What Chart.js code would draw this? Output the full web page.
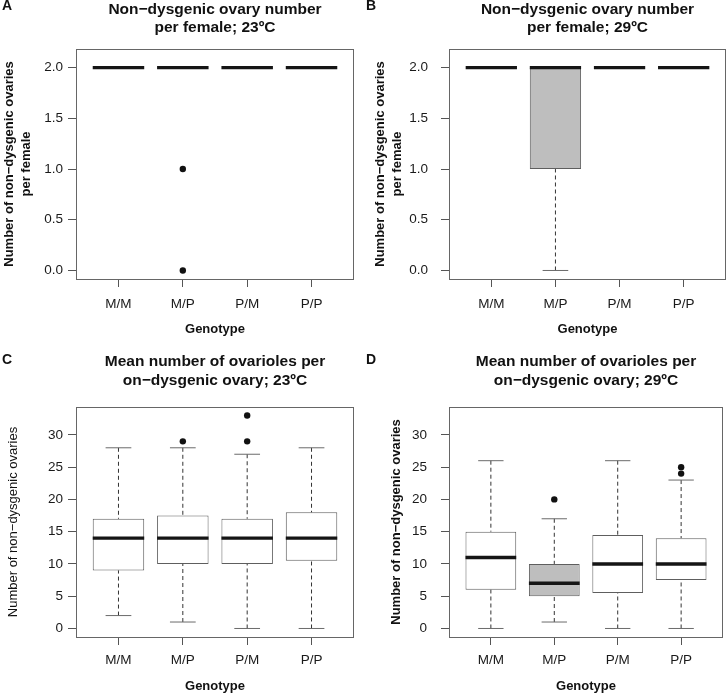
<!DOCTYPE html>
<html>
<head>
<meta charset="utf-8">
<script src="https://cdn.jsdelivr.net/npm/chart.js@4.4.1/dist/chart.umd.min.js"></script>
<style>
  body { margin: 0; background: #fff; }
  #wrap { position: relative; width: 727px; height: 694px; overflow: hidden; background: #fff; }
  #wrap canvas { position: absolute; }
  .tag { position: absolute; font: bold 14px/14px "Liberation Sans", Arial, sans-serif; color: #111; }
</style>
</head>
<body>
<div id="wrap">
  <canvas id="chartA" width="364" height="347" style="left:0;top:0"></canvas>
  <canvas id="chartB" width="363" height="347" style="left:364px;top:0"></canvas>
  <canvas id="chartC" width="364" height="347" style="left:0;top:347px"></canvas>
  <canvas id="chartD" width="363" height="347" style="left:364px;top:347px"></canvas>
  <div class="tag" style="left:2px;top:-2px">A</div>
  <div class="tag" style="left:366px;top:-2px">B</div>
  <div class="tag" style="left:2px;top:352px">C</div>
  <div class="tag" style="left:366px;top:352px">D</div>
</div>
<script>
const genotypes = ['M/M', 'M/P', 'P/M', 'P/P'];

// ticks
const countTicks = [0, 0.5, 1, 1.5, 2];
const countTickLabels = ['0.0', '0.5', '1.0', '1.5', '2.0'];
const ovarioleTicks = [0, 5, 10, 15, 20, 25, 30];
const ovarioleTickLabels = ['0', '5', '10', '15', '20', '25', '30'];

// A - ovaries per female, 23ºC
const ovary23Low = [2, 2, 2, 2];
const ovary23Q1 = [2, 2, 2, 2];
const ovary23Med = [2, 2, 2, 2];
const ovary23Q3 = [2, 2, 2, 2];
const ovary23High = [2, 2, 2, 2];
const ovary23Out = [[], [1, 0], [], []];

// B - ovaries per female, 29ºC
const ovary29Low = [2, 0, 2, 2];
const ovary29Q1 = [2, 1, 2, 2];
const ovary29Med = [2, 2, 2, 2];
const ovary29Q3 = [2, 2, 2, 2];
const ovary29High = [2, 2, 2, 2];
const ovary29Out = [[], [], [], []];

// C - ovarioles per ovary, 23ºC
const ovariole23Low = [2, 1, 0, 0];
const ovariole23Q1 = [9, 10, 10, 10.5];
const ovariole23Med = [14, 14, 14, 14];
const ovariole23Q3 = [17, 17.5, 17, 18];
const ovariole23High = [28, 28, 27, 28];
const ovariole23Out = [[], [29], [29, 33], []];

// D - ovarioles per ovary, 29ºC
const ovariole29Low = [0, 1, 0, 0];
const ovariole29Q1 = [6, 5, 5.5, 7.5];
const ovariole29Med = [11, 7, 10, 10];
const ovariole29Q3 = [15, 10, 14.5, 14];
const ovariole29High = [26, 17, 26, 23];
const ovariole29Out = [[], [20], [], [24, 25]];

const white = ['#fff', '#fff', '#fff', '#fff'];
const greyMP = ['#fff', '#bebebe', '#fff', '#fff'];

Chart.defaults.font.family = '"Liberation Sans", Arial, Helvetica, sans-serif';
Chart.defaults.color = '#1a1a1a';

// box frame around plot region, like R's box()
const frame = {
  id: 'frame',
  afterDraw(chart) {
    const a = chart.chartArea, c = chart.ctx;
    c.save();
    c.strokeStyle = '#666';
    c.lineWidth = 1;
    c.strokeRect(Math.round(a.left) + 0.5, Math.round(a.top) + 0.5,
      Math.round(a.right - a.left) - 1, Math.round(a.bottom - a.top));
    c.restore();
  }
};

function boxDatasets(low, q1, med, q3, high, out, fills) {
  const half = 0.4, cap = 0.2;
  const medPts = [], capPts = [], whiskPts = [], outPts = [];
  genotypes.forEach((g, i) => {
    const x = i + 1;
    medPts.push({x: x - half, y: med[i]}, {x: x + half, y: med[i]}, {x: x + 0.5, y: null});
    capPts.push({x: x - cap, y: high[i]}, {x: x + cap, y: high[i]}, {x: x, y: null},
                {x: x - cap, y: low[i]}, {x: x + cap, y: low[i]}, {x: x + 0.5, y: null});
    whiskPts.push({x: x, y: high[i]}, {x: x, y: q3[i]}, {x: x, y: null},
                  {x: x, y: low[i]}, {x: x, y: q1[i]}, {x: x + 0.5, y: null});
    out[i].forEach(v => outPts.push({x: x, y: v}));
  });
  const line = {type: 'line', pointRadius: 0, spanGaps: false, fill: false, borderCapStyle: 'butt'};
  return [
    Object.assign({}, line, {data: medPts, borderColor: '#151515', borderWidth: 3.4}),
    {type: 'line', data: outPts, showLine: false, pointRadius: 3.2, pointBorderWidth: 0,
     pointBackgroundColor: '#111', pointBorderColor: '#111'},
    Object.assign({}, line, {data: capPts, borderColor: '#6a6a6a', borderWidth: 1}),
    Object.assign({}, line, {data: whiskPts, borderColor: '#333', borderWidth: 1, borderDash: [4, 3]}),
    {type: 'bar', data: genotypes.map((g, i) => ({x: i + 1, y: [q1[i], q3[i]]})),
     backgroundColor: fills, borderColor: '#5e5e5e', borderWidth: 1, borderSkipped: false,
     grouped: false, categoryPercentage: 1, barPercentage: 0.8}
  ];
}

function makePanel(id, g, title, yTitle, yBold, yTicks, yLabels, yMin, yMax, sets) {
  return new Chart(document.getElementById(id), {
    type: 'bar',
    data: {datasets: sets},
    plugins: [frame],
    options: {
      responsive: false,
      animation: false,
      events: [],
      layout: {padding: {left: 0, right: g.padR, top: 0, bottom: 0}},
      plugins: {legend: {display: false}, tooltip: {enabled: false}},
      scales: {
        x: {
          type: 'linear', position: 'bottom', min: 0.34, max: 4.66, offset: false,
          afterBuildTicks: s => { s.ticks = genotypes.map((n, i) => ({value: i + 1})); },
          afterFit: s => { s.height = g.botH; },
          ticks: {autoSkip: false, maxRotation: 0, padding: g.xTickPad, font: {size: 13.5},
                  callback: v => genotypes[v - 1]},
          grid: {offset: false, drawOnChartArea: false, tickLength: 8, color: '#555'},
          border: {display: false},
          title: {display: true, text: 'Genotype', color: '#111',
                  font: {size: 13, weight: 'bold'}, padding: {top: 0, bottom: g.xTitlePad}}
        },
        x2: {
          type: 'linear', position: 'top', min: 0.34, max: 4.66, display: true,
          afterFit: s => { s.height = g.topH; },
          ticks: {display: false},
          grid: {display: false},
          border: {display: false},
          title: {display: true, text: title, color: '#111',
                  font: {size: 15.5, weight: 'bold', lineHeight: 1.2},
                  padding: {top: g.titlePad, bottom: 0}}
        },
        y: {
          type: 'linear', min: yMin, max: yMax,
          afterBuildTicks: s => { s.ticks = yTicks.map(v => ({value: v})); },
          afterFit: s => { s.width = g.yW; },
          ticks: {padding: g.yTickPad, font: {size: 13.5},
                  callback: v => yLabels[yTicks.indexOf(v)]},
          grid: {drawOnChartArea: false, tickLength: 8, color: '#555'},
          border: {display: false},
          title: {display: true, text: yTitle, color: '#111',
                  font: {size: 13, weight: yBold ? 'bold' : 'normal', lineHeight: g.yLH},
                  padding: {top: g.yTitlePad, bottom: 0}}
        }
      }
    }
  });
}

const geomA = {padR: 10, topH: 49, botH: 68, yW: 76, titlePad: 0, xTickPad: 9, xTitlePad: 10, yTickPad: 5, yLH: 1.38, yTitlePad: 0};
const geomB = {padR: 1, topH: 49, botH: 68, yW: 85, titlePad: 0, xTickPad: 9, xTitlePad: 10, yTickPad: 13, yLH: 1.27, yTitlePad: 8.5};
const geomC = {padR: 10, topH: 60, botH: 57, yW: 76, titlePad: 5.7, xTickPad: 7.5, xTitlePad: 0, yTickPad: 5, yLH: 1.2, yTitlePad: 5.5};
const geomD = {padR: 1, topH: 60, botH: 57, yW: 85, titlePad: 5.7, xTickPad: 7.5, xTitlePad: 0, yTickPad: 14, yLH: 1.2, yTitlePad: 25};

makePanel('chartA', geomA,
  ['Non\u2212dysgenic ovary number', 'per female; 23\u00baC'],
  ['Number of non\u2212dysgenic ovaries', 'per female'], true,
  countTicks, countTickLabels, -0.084, 2.184,
  boxDatasets(ovary23Low, ovary23Q1, ovary23Med, ovary23Q3, ovary23High, ovary23Out, white));

makePanel('chartB', geomB,
  ['Non\u2212dysgenic ovary number', 'per female; 29\u00baC'],
  ['Number of non\u2212dysgenic ovaries', 'per female'], true,
  countTicks, countTickLabels, -0.084, 2.184,
  boxDatasets(ovary29Low, ovary29Q1, ovary29Med, ovary29Q3, ovary29High, ovary29Out, greyMP));

makePanel('chartC', geomC,
  ['Mean number of ovarioles per', 'on\u2212dysgenic ovary; 23\u00baC'],
  'Number of non\u2212dysgenic ovaries', false,
  ovarioleTicks, ovarioleTickLabels, -1.32, 34.32,
  boxDatasets(ovariole23Low, ovariole23Q1, ovariole23Med, ovariole23Q3, ovariole23High, ovariole23Out, white));

makePanel('chartD', geomD,
  ['Mean number of ovarioles per', 'on\u2212dysgenic ovary; 29\u00baC'],
  'Number of non\u2212dysgenic ovaries', true,
  ovarioleTicks, ovarioleTickLabels, -1.32, 34.32,
  boxDatasets(ovariole29Low, ovariole29Q1, ovariole29Med, ovariole29Q3, ovariole29High, ovariole29Out, greyMP));
</script>
</body>
</html>
